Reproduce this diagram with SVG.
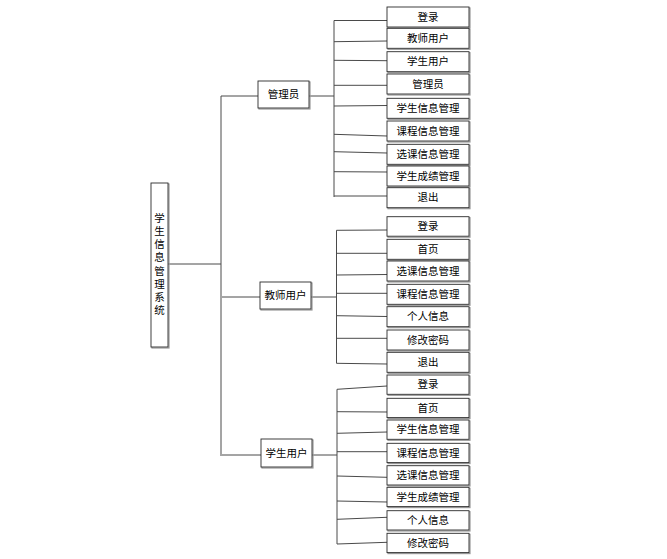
<svg xmlns="http://www.w3.org/2000/svg" width="667" height="559" viewBox="0 0 667 559">
<defs>
<style>
.bg{fill:#fff}
.sh{fill:none;stroke:#9a9a9a;stroke-width:1.2}
.bx{fill:#fff;stroke:#2a2a2a;stroke-width:0.9}
.t{font-family:"Noto Sans CJK SC","Noto Sans CJK TC",sans-serif;font-size:10.5px;fill:#000;text-anchor:middle}
.v{writing-mode:vertical-rl;letter-spacing:2.6px}
.c line{stroke:#4a4a4a;stroke-width:1}
</style>
</defs>
<rect class="bg" x="0" y="0" width="667" height="559"/>
<g id="connectors" class="c">
<line x1="168" y1="264" x2="221" y2="264"/>
<line x1="221" y1="96" x2="221" y2="456"/>
<line x1="221" y1="96" x2="258" y2="96"/>
<line x1="222" y1="297" x2="260" y2="297"/>
<line x1="222" y1="455" x2="261" y2="455"/>
<line x1="309" y1="96" x2="334" y2="96"/>
<line x1="334" y1="20.5" x2="334" y2="197"/>
<line x1="334" y1="20.5" x2="387" y2="20.5"/>
<line x1="334" y1="41.7" x2="387" y2="41"/>
<line x1="334" y1="60.3" x2="387" y2="60.7"/>
<line x1="334" y1="85.3" x2="387" y2="85.3"/>
<line x1="334" y1="106" x2="387" y2="105.5"/>
<line x1="334" y1="134.3" x2="387" y2="136"/>
<line x1="334" y1="151.7" x2="387" y2="153"/>
<line x1="334" y1="171.7" x2="387" y2="172"/>
<line x1="334" y1="196" x2="387" y2="196"/>
<line x1="311" y1="297" x2="336.5" y2="297"/>
<line x1="336.5" y1="230.3" x2="336.5" y2="363.3"/>
<line x1="336.5" y1="230.3" x2="387" y2="230"/>
<line x1="336.5" y1="253.3" x2="387" y2="253.3"/>
<line x1="336.5" y1="275" x2="387" y2="274.5"/>
<line x1="336.5" y1="293.3" x2="387" y2="293.3"/>
<line x1="336.5" y1="315.7" x2="387" y2="316.5"/>
<line x1="336.5" y1="338.3" x2="387" y2="338.3"/>
<line x1="336.5" y1="363.3" x2="387" y2="364"/>
<line x1="312" y1="455" x2="337" y2="455"/>
<line x1="337" y1="389.3" x2="337" y2="544"/>
<line x1="337" y1="389.3" x2="387" y2="386"/>
<line x1="337" y1="411.7" x2="387" y2="412"/>
<line x1="337" y1="433.3" x2="387" y2="432"/>
<line x1="337" y1="451.7" x2="387" y2="451.7"/>
<line x1="337" y1="476" x2="387" y2="477.3"/>
<line x1="337" y1="501" x2="387" y2="502"/>
<line x1="337" y1="519.3" x2="387" y2="517.3"/>
<line x1="337" y1="544" x2="387" y2="542.3"/>
</g>
<g id="root">
<rect class="sh" x="152" y="184" width="17" height="164"/>
<rect class="bx" x="151" y="183" width="17" height="164"/>
<text class="t v" x="159.5" y="265.3">学生信息管理系统</text>
</g>
<g id="admin">
<rect class="sh" x="259" y="82" width="51" height="27"/>
<rect class="bx" x="258" y="81" width="51" height="27"/>
<text class="t" x="283.5" y="98.3">管理员</text>
</g>
<g id="teacher">
<rect class="sh" x="261" y="283" width="51" height="27"/>
<rect class="bx" x="260" y="282" width="51" height="27"/>
<text class="t" x="285.5" y="299.3">教师用户</text>
</g>
<g id="student">
<rect class="sh" x="262" y="440" width="51" height="28"/>
<rect class="bx" x="261" y="439" width="51" height="28"/>
<text class="t" x="286.5" y="456.8">学生用户</text>
</g>
<g id="a1"><rect class="sh" x="388" y="8" width="82" height="20"/><rect class="bx" x="387" y="7" width="82" height="20"/><text class="t" x="428" y="20.7">登录</text></g>
<g id="a2"><rect class="sh" x="388" y="29.3" width="82" height="20"/><rect class="bx" x="387" y="28.3" width="82" height="20"/><text class="t" x="428" y="42">教师用户</text></g>
<g id="a3"><rect class="sh" x="388" y="52.7" width="82" height="20"/><rect class="bx" x="387" y="51.7" width="82" height="20"/><text class="t" x="428" y="65.4">学生用户</text></g>
<g id="a4"><rect class="sh" x="388" y="75" width="82" height="20"/><rect class="bx" x="387" y="74" width="82" height="20"/><text class="t" x="428" y="87.7">管理员</text></g>
<g id="a5"><rect class="sh" x="388" y="99.3" width="82" height="20"/><rect class="bx" x="387" y="98.3" width="82" height="20"/><text class="t" x="428" y="112">学生信息管理</text></g>
<g id="a6"><rect class="sh" x="388" y="122" width="82" height="20"/><rect class="bx" x="387" y="121" width="82" height="20"/><text class="t" x="428" y="134.7">课程信息管理</text></g>
<g id="a7"><rect class="sh" x="388" y="145.3" width="82" height="20"/><rect class="bx" x="387" y="144.3" width="82" height="20"/><text class="t" x="428" y="158">选课信息管理</text></g>
<g id="a8"><rect class="sh" x="388" y="167" width="82" height="20"/><rect class="bx" x="387" y="166" width="82" height="20"/><text class="t" x="428" y="179.7">学生成绩管理</text></g>
<g id="a9"><rect class="sh" x="388" y="188.7" width="82" height="20"/><rect class="bx" x="387" y="187.7" width="82" height="20"/><text class="t" x="428" y="201.4">退出</text></g>
<g id="t1"><rect class="sh" x="388" y="217.7" width="82" height="19.5"/><rect class="bx" x="387" y="216.7" width="82" height="19.5"/><text class="t" x="428" y="230.2">登录</text></g>
<g id="t2"><rect class="sh" x="388" y="240.3" width="82" height="20"/><rect class="bx" x="387" y="239.3" width="82" height="20"/><text class="t" x="428" y="253">首页</text></g>
<g id="t3"><rect class="sh" x="388" y="262" width="82" height="20"/><rect class="bx" x="387" y="261" width="82" height="20"/><text class="t" x="428" y="274.7">选课信息管理</text></g>
<g id="t4"><rect class="sh" x="388" y="285.3" width="82" height="20"/><rect class="bx" x="387" y="284.3" width="82" height="20"/><text class="t" x="428" y="298">课程信息管理</text></g>
<g id="t5"><rect class="sh" x="388" y="307.7" width="82" height="20"/><rect class="bx" x="387" y="306.7" width="82" height="20"/><text class="t" x="428" y="320.4">个人信息</text></g>
<g id="t6"><rect class="sh" x="388" y="331" width="82" height="20"/><rect class="bx" x="387" y="330" width="82" height="20"/><text class="t" x="428" y="343.7">修改密码</text></g>
<g id="t7"><rect class="sh" x="388" y="353.3" width="82" height="20"/><rect class="bx" x="387" y="352.3" width="82" height="20"/><text class="t" x="428" y="366">退出</text></g>
<g id="s1"><rect class="sh" x="388" y="376" width="82" height="19.3"/><rect class="bx" x="387" y="375" width="82" height="19.3"/><text class="t" x="428" y="388.4">登录</text></g>
<g id="s2"><rect class="sh" x="388" y="399.3" width="82" height="19.3"/><rect class="bx" x="387" y="398.3" width="82" height="19.3"/><text class="t" x="428" y="411.7">首页</text></g>
<g id="s3"><rect class="sh" x="388" y="421" width="82" height="19.3"/><rect class="bx" x="387" y="420" width="82" height="19.3"/><text class="t" x="428" y="433.4">学生信息管理</text></g>
<g id="s4"><rect class="sh" x="388" y="444.3" width="82" height="19.3"/><rect class="bx" x="387" y="443.3" width="82" height="19.3"/><text class="t" x="428" y="456.7">课程信息管理</text></g>
<g id="s5"><rect class="sh" x="388" y="466.7" width="82" height="19.3"/><rect class="bx" x="387" y="465.7" width="82" height="19.3"/><text class="t" x="428" y="479.1">选课信息管理</text></g>
<g id="s6"><rect class="sh" x="388" y="488.3" width="82" height="19.3"/><rect class="bx" x="387" y="487.3" width="82" height="19.3"/><text class="t" x="428" y="500.7">学生成绩管理</text></g>
<g id="s7"><rect class="sh" x="388" y="511.7" width="82" height="19.3"/><rect class="bx" x="387" y="510.7" width="82" height="19.3"/><text class="t" x="428" y="524.1">个人信息</text></g>
<g id="s8"><rect class="sh" x="388" y="534.3" width="82" height="19.3"/><rect class="bx" x="387" y="533.3" width="82" height="19.3"/><text class="t" x="428" y="546.7">修改密码</text></g>
</svg>
